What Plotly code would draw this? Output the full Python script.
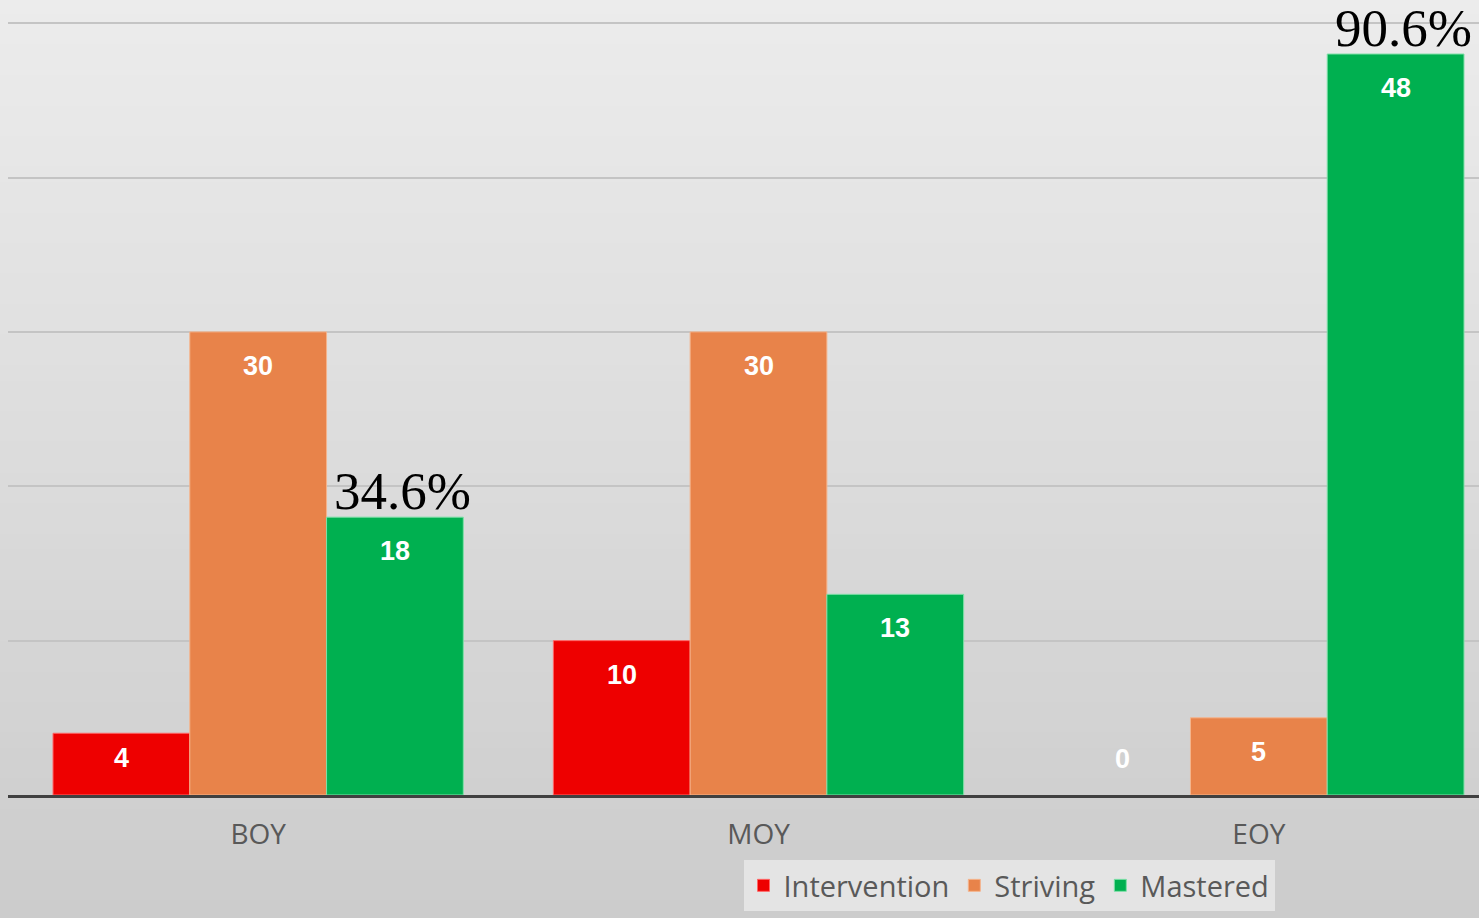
import plotly.graph_objects as go

categories = ["BOY", "MOY", "EOY"]
series_names = ["Intervention", "Striving", "Mastered"]
intervention = [4, 10, 0]
striving = [30, 30, 5]
mastered = [18, 13, 48]
pct_labels = {"BOY": "34.6%", "EOY": "90.6%"}

colors = ["#EE0000", "#E8834A", "#00B050"]
edge_colors = ["#ff6666", "#f5b48c", "#7fe0a8"]

W, H = 1479, 918
bargap = 0.18
ymax = 51.5
plot_h = H - 123
xpos = list(range(len(categories)))
values = [intervention, striving, mastered]

fig = go.Figure()

for name, vals, col, edge in zip(series_names, values, colors, edge_colors):
    fig.add_trace(go.Bar(
        x=xpos, y=vals, name=name,
        marker=dict(color=col,
                    line=dict(color=edge, width=[1 if v > 0 else 0 for v in vals])),
        hoverinfo="skip",
    ))

# data labels inside the top of each bar
bar_w = (1 - bargap) / len(series_names)
annotations = []
for si, vals in enumerate(values):
    for ci, v in enumerate(vals):
        px_h = v / ymax * plot_h
        annotations.append(dict(
            x=ci + (si - 1) * bar_w, y=v, xref="x", yref="y",
            text=str(v), showarrow=False, yanchor="middle",
            yshift=-min(34, px_h - 37) if v > 0 else 36,
            font=dict(family="Liberation Sans", size=27, color="white", weight="bold"),
        ))

# percentage callouts above the Mastered bars
for cat, txt in pct_labels.items():
    ci = categories.index(cat)
    annotations.append(dict(
        x=ci + bar_w, y=mastered[ci], xref="x", yref="y",
        text=txt, showarrow=False, yanchor="bottom", xshift=8, yshift=-5,
        font=dict(family="Liberation Serif", size=53, color="black"),
    ))

# soft vertical gradient for the background
shapes = []
n = 60
top, bot = (236, 236, 236), (204, 204, 204)
for i in range(n):
    t = i / (n - 1)
    c = tuple(round(top[k] + (bot[k] - top[k]) * t) for k in range(3))
    shapes.append(dict(
        type="rect", xref="paper", yref="paper", layer="below",
        x0=0, x1=1, y0=1 - (i + 1) / n, y1=1 - i / n + 0.002,
        fillcolor="rgb(%d,%d,%d)" % c, line=dict(width=0),
    ))

fig.update_layout(
    width=W, height=H,
    margin=dict(l=0, r=0, t=0, b=0),
    paper_bgcolor="#dcdcdc",
    plot_bgcolor="rgba(0,0,0,0)",
    barmode="group", bargap=bargap, bargroupgap=0.0,
    shapes=shapes, annotations=annotations,
    font=dict(family="Open Sans", color="#595959"),
    xaxis=dict(
        domain=[8 / W, 1], range=[-0.5, 2.44],
        tickvals=xpos, ticktext=categories,
        tickfont=dict(family="Open Sans", size=28, color="#595959"),
        ticklabelstandoff=12,
        showline=True, linecolor="#404040", linewidth=3,
        showgrid=False, zeroline=False, ticks="", ticklen=0,
    ),
    yaxis=dict(
        domain=[123 / H, 1], range=[0, ymax], dtick=10,
        showticklabels=False, showgrid=True,
        gridcolor="#c4c4c4", gridwidth=1.5, zeroline=False,
    ),
    legend=dict(
        orientation="h", x=1009 / W, xanchor="center",
        y=1 - 860 / H, yanchor="top",
        bgcolor="#e4e4e4",
        font=dict(family="Open Sans", size=29, color="#595959"),
        itemwidth=30, traceorder="normal",
    ),
    showlegend=True,
)

fig.write_html("out.html", config={"displayModeBar": False},
               post_script="document.body.style.margin='0';")
